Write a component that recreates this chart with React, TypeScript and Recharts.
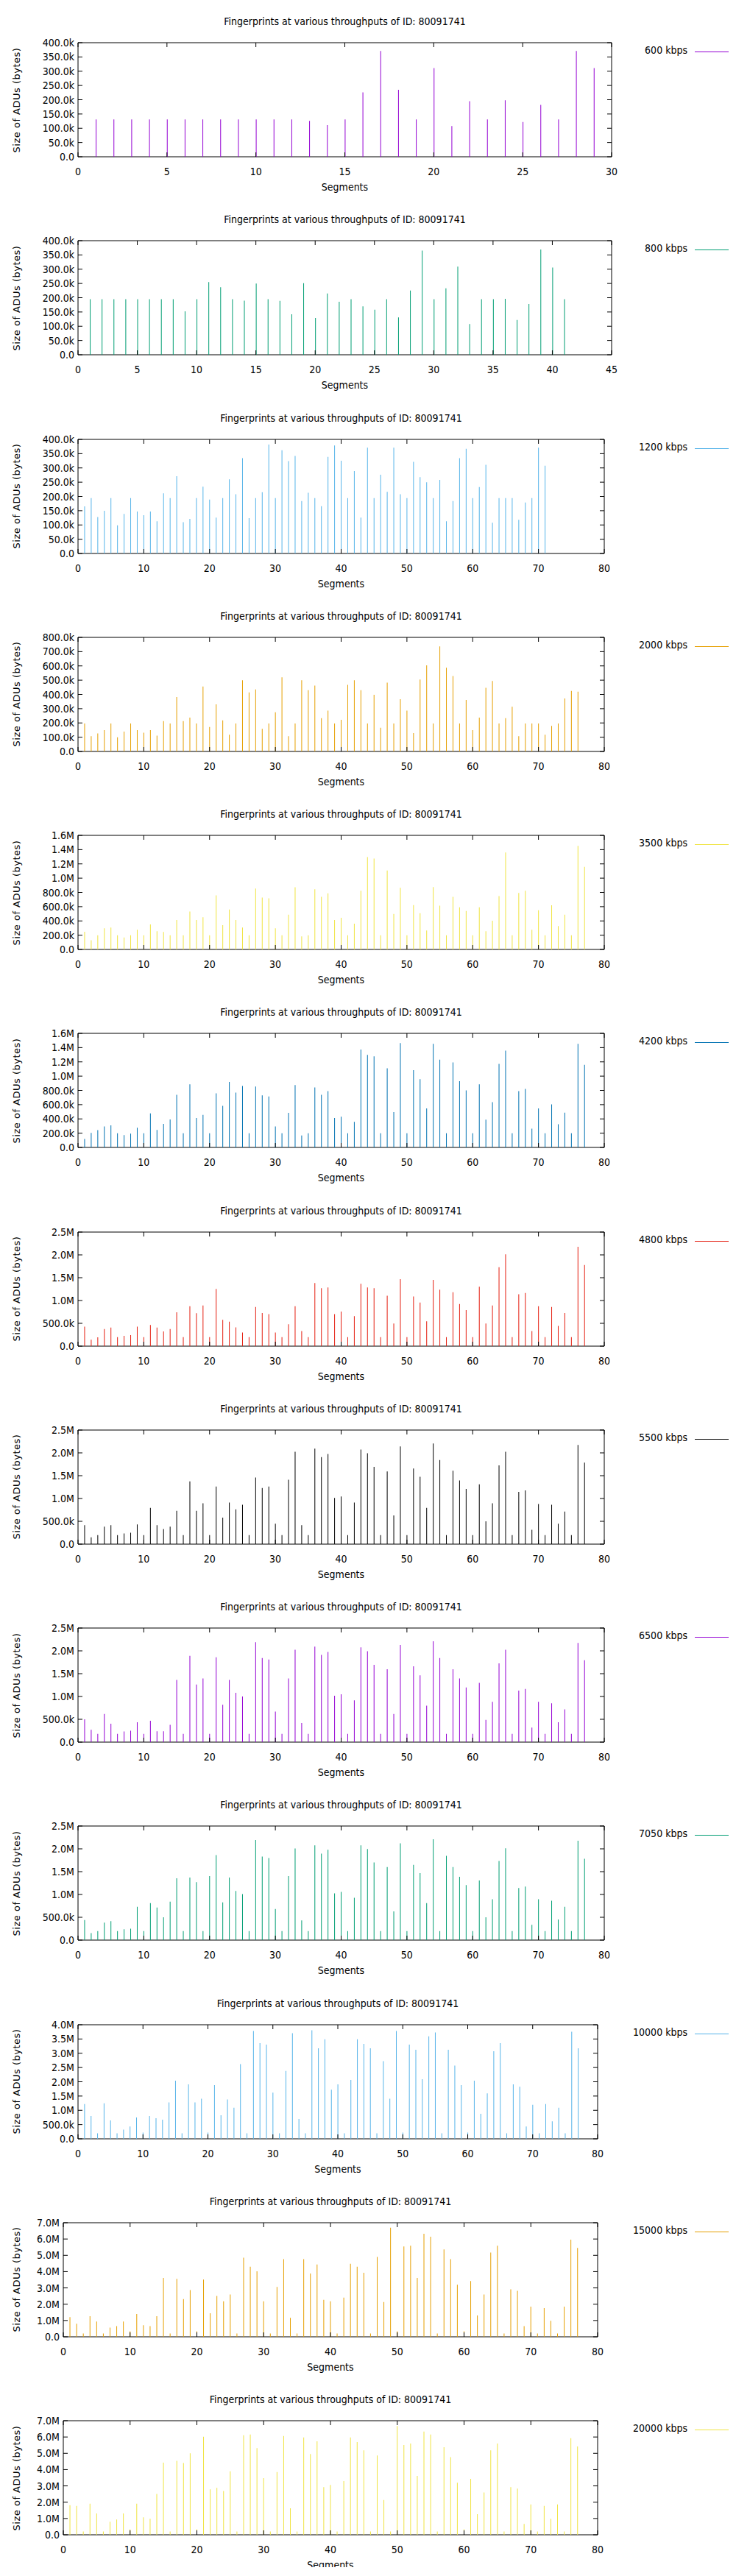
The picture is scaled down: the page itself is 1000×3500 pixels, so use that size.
import React from "react";
import { BarChart, Bar, XAxis, YAxis, ReferenceArea } from "recharts";

const TITLE = "Fingerprints at various throughputs of ID: 80091741";
const X_LABEL = "Segments";
const Y_LABEL = "Size of ADUs (bytes)";

// values in kB (thousands of bytes), segment index = position + 1
const d600 = [131,131,131,131,131,131,131,131,131,131,131,131,126,111,131,226,371,235,131,311,108,195,131,198,122,182,131,371,311];
const d800 = [195,195,195,195,195,195,195,195,152,195,255,237,195,190,250,195,189,142,251,129,215,186,195,170,158,195,131,225,365,195,233,309,108,195,195,196,122,178,369,306,195];
const d1200 = [165,194,128,150,194,99,139,194,147,134,147,113,211,194,271,110,121,194,234,189,126,194,260,208,334,124,194,215,382,194,362,324,342,184,213,194,166,339,379,325,194,289,126,371,194,276,216,371,208,194,321,268,250,194,258,113,184,334,367,194,233,311,108,194,194,194,118,179,194,371,308];
const d2000 = [196,107,127,150,196,100,139,196,150,132,150,111,213,196,382,213,238,196,456,171,330,218,118,196,499,414,435,159,196,275,520,107,196,499,430,462,233,286,196,222,467,499,430,196,398,166,483,196,366,287,129,504,604,196,737,587,529,196,361,150,238,446,494,196,234,314,107,196,196,196,118,180,196,372,425,419];
const d3500 = [249,130,200,298,308,200,168,200,277,200,350,256,245,200,413,200,532,413,452,200,760,340,560,413,308,200,854,728,718,298,200,487,872,182,200,844,739,788,413,445,200,361,823,1296,1275,200,1106,497,865,200,623,508,266,875,613,200,739,592,539,200,592,256,403,749,1359,200,791,823,277,550,200,620,329,487,200,1453,1159];
const d4200 = [119,204,242,295,309,200,172,193,277,200,477,246,330,393,737,200,884,414,456,200,758,582,919,768,863,200,853,730,716,295,200,484,874,168,200,842,737,789,414,432,200,358,1372,1298,1277,200,1109,495,1463,200,1084,958,547,1453,1232,200,1193,930,800,200,884,389,635,1172,1358,200,789,821,263,547,200,603,326,488,200,1453,1158];
const d4800 = [429,143,192,374,407,198,225,242,429,198,462,407,324,374,742,198,874,720,890,198,1253,577,538,412,297,198,857,725,703,297,198,478,874,330,198,1385,1269,1286,703,758,198,659,1368,1286,1269,198,1104,495,1467,198,1088,956,544,1451,1236,198,1181,923,791,198,1302,495,890,1731,2011,198,1137,1165,330,874,198,857,445,725,198,2176,1780];
const d5500 = [415,149,199,382,415,199,232,249,431,199,796,415,332,382,730,199,1377,730,896,199,1261,581,913,763,863,199,1460,1228,1261,448,199,1410,2024,415,199,2091,1908,1974,1012,1045,199,913,2074,1991,1692,199,1593,631,2141,199,1659,1477,796,2207,1842,199,1609,1394,1211,199,1311,498,896,1726,2024,199,1145,1178,315,879,199,863,448,714,199,2174,1786];
const d6500 = [502,270,182,618,403,182,232,248,436,182,469,237,237,381,1363,182,1893,1264,1396,182,1860,817,1363,1082,999,182,2191,1843,1810,668,182,1396,2025,419,182,2092,1910,1976,1015,1049,182,916,2075,1992,1694,182,1595,618,2130,182,1661,1462,800,2208,1843,182,1595,1396,1198,182,1297,486,883,1727,2025,182,1131,1164,320,883,182,850,436,717,182,2174,1793];
const d7050 = [439,154,197,384,417,197,236,252,729,197,811,713,499,844,1354,197,1371,1272,197,1404,1864,828,1371,1075,1009,197,2193,1831,1798,680,197,1404,2007,433,197,2078,1897,1979,1025,1058,197,927,2078,1996,1700,197,1601,630,2122,197,1650,1469,811,2210,197,1848,1601,1387,1206,197,1305,499,894,1732,2012,197,1140,1173,334,894,197,861,450,729,197,2177,1782];
const d10000 = [1222,800,193,1248,642,193,325,431,747,220,800,721,668,1275,2040,193,1908,1275,1407,220,1881,826,1380,1090,2620,193,3780,3358,3305,1618,193,2382,3701,695,193,3807,3173,3490,1723,1908,193,2066,3490,3332,3173,193,2725,1407,3780,220,3305,3121,2092,3596,3727,193,3121,2567,1881,220,2040,879,1591,3068,3358,193,1908,1829,431,1196,193,1222,615,1090,193,3754,3173];
const d15000 = [1213,798,200,1259,937,200,568,660,937,338,1397,706,660,1259,3608,200,3562,2318,2871,338,3516,1443,2502,2180,2594,200,4851,4298,4021,2180,200,3055,4759,1167,200,4759,3884,4436,2272,2180,200,2410,4482,4298,3930,200,4897,2134,6693,338,5542,5588,3608,6324,6140,200,5358,4759,3193,338,3424,1305,2594,5173,5588,200,2917,2825,660,1857,200,1765,983,200,1857,5957,5450];
const d20000 = [1815,1769,200,1908,1308,200,800,938,1308,338,1908,1077,985,2508,4431,200,4538,4400,5000,338,6015,2785,2877,2692,3892,200,6108,6154,5323,3477,200,3846,6062,1631,200,5969,4954,5738,2923,3062,200,3292,5969,5692,5185,200,4862,2138,200,6677,5508,5600,3615,6338,6154,200,5369,4769,3200,338,3431,1262,2600,5185,5600,200,2923,2831,662,1862,200,1769,985,1862,200,5923,5415];

const LABELS = ["600 kbps","800 kbps","1200 kbps","2000 kbps","3500 kbps","4200 kbps","4800 kbps","5500 kbps","6500 kbps","7050 kbps","10000 kbps","15000 kbps","20000 kbps"];
const SERIES = [d600,d800,d1200,d2000,d3500,d4200,d4800,d5500,d6500,d7050,d10000,d15000,d20000];
const COLORS = ["#9400d3","#009e73","#56b4e9","#e69f00","#f0e442","#0072b2","#e51e10","#000000","#9400d3","#009e73","#56b4e9","#e69f00","#f0e442"];
const Y_MAX = [400,400,400,800,1600,1600,2500,2500,2500,2500,4000,7000,7000];
const Y_STEP = [50,50,50,100,200,200,500,500,500,500,500,1000,1000];
const X_MAX = [30,45,80,80,80,80,80,80,80,80,80,80,80];
const X_STEP = [5,5,10,10,10,10,10,10,10,10,10,10,10];
const PLOT_L = [106,106,106,106,106,106,106,106,106,106,106,86,86];
const PLOT_R = [831,831,821,821,821,821,821,821,821,821,812,812,812];

const FONT = "'DejaVu Sans Condensed', 'Liberation Sans Narrow', 'DejaVu Sans', sans-serif";
const W = 1000;
const H = 269;
const MT = 56;
const PB = 211;
const XH = 30;
const MB = H - PB - XH;

const fmt = (v: number) => (v === 0 ? "0.0" : v < 1000 ? `${v.toFixed(1)}k` : `${(v / 1000).toFixed(1)}M`);
const range = (max: number, step: number) => {
  const r: number[] = [];
  for (let v = 0; v <= max + 1e-9; v += step) r.push(v);
  return r;
};

function Panel({ i }: { i: number }) {
  const data = SERIES[i].map((v, k) => ({ x: k + 1, v }));
  const left = PLOT_L[i] - 8;
  const right = W - 16 - (PLOT_R[i] - 8);
  const pl = PLOT_L[i] - 8;
  const pr = PLOT_R[i] - 8;
  const XTick = (p: any) => {
    const { x, payload } = p;
    return (
      <g>
        <line x1={x} x2={x} y1={PB} y2={PB - 6} stroke="#000" />
        <line x1={x} x2={x} y1={MT} y2={MT + 6} stroke="#000" />
        <text x={x} y={PB + 25} textAnchor="middle" fontSize={14} fontFamily={FONT} fill="#000">{payload.value}</text>
      </g>
    );
  };
  const YTick = (p: any) => {
    const { y, payload } = p;
    return (
      <g>
        <line x1={pl} x2={pl + 6} y1={y} y2={y} stroke="#000" />
        <line x1={pr} x2={pr - 6} y1={y} y2={y} stroke="#000" />
        <text x={pl - 5} y={y + 5} textAnchor="end" fontSize={14} fontFamily={FONT} fill="#000">{fmt(payload.value)}</text>
      </g>
    );
  };
  const midX = (PLOT_L[i] + PLOT_R[i]) / 2 - 8;
  return (
    <div style={{ position: "absolute", left: 0, top: -6 + i * 269.25, width: W, height: H }}>
      <BarChart width={W - 16} height={H} data={data} margin={{ top: MT, bottom: MB, left: left - 60, right: right }} barSize={1}>
        <XAxis dataKey="x" type="number" domain={[0, X_MAX[i]]} ticks={range(X_MAX[i], X_STEP[i])} tick={XTick} tickLine={false} axisLine={false} interval={0} height={XH} />
        <YAxis type="number" domain={[0, Y_MAX[i]]} ticks={range(Y_MAX[i], Y_STEP[i])} tick={YTick} tickLine={false} axisLine={false} width={60} interval={0} />
        <ReferenceArea x1={0} x2={X_MAX[i]} y1={0} y2={Y_MAX[i]} fill="none" fillOpacity={0} stroke="#000" strokeWidth={1} ifOverflow="visible" />
        <Bar dataKey="v" fill={COLORS[i]} isAnimationActive={false} />
      </BarChart>
      <div style={{ position: "absolute", left: midX, top: 19, transform: "translateX(-50%)", whiteSpace: "nowrap", fontFamily: FONT, fontSize: 14 }}>{TITLE}</div>
      <div style={{ position: "absolute", left: midX, top: 244, transform: "translateX(-50%)", whiteSpace: "nowrap", fontFamily: FONT, fontSize: 14 }}>{X_LABEL}</div>
      <div style={{ position: "absolute", left: 14, top: (MT + PB) / 2, transform: "translate(-50%,-50%) rotate(-90deg)", whiteSpace: "nowrap", fontFamily: "'DejaVu Sans', sans-serif", fontSize: 13, letterSpacing: 0.5 }}>{Y_LABEL}</div>
      <div style={{ position: "absolute", right: W - 934 + 8, top: MT + 2, whiteSpace: "nowrap", fontFamily: FONT, fontSize: 14 }}>{LABELS[i]}</div>
      <div style={{ position: "absolute", left: 936, top: MT + 12, width: 46, height: 0, borderTop: `1.5px solid ${COLORS[i]}` }} />
    </div>
  );
}

export default function App() {
  return (
    <div style={{ position: "relative", width: W - 16, height: 3480 }}>
      {SERIES.map((_, i) => (
        <Panel key={i} i={i} />
      ))}
    </div>
  );
}
